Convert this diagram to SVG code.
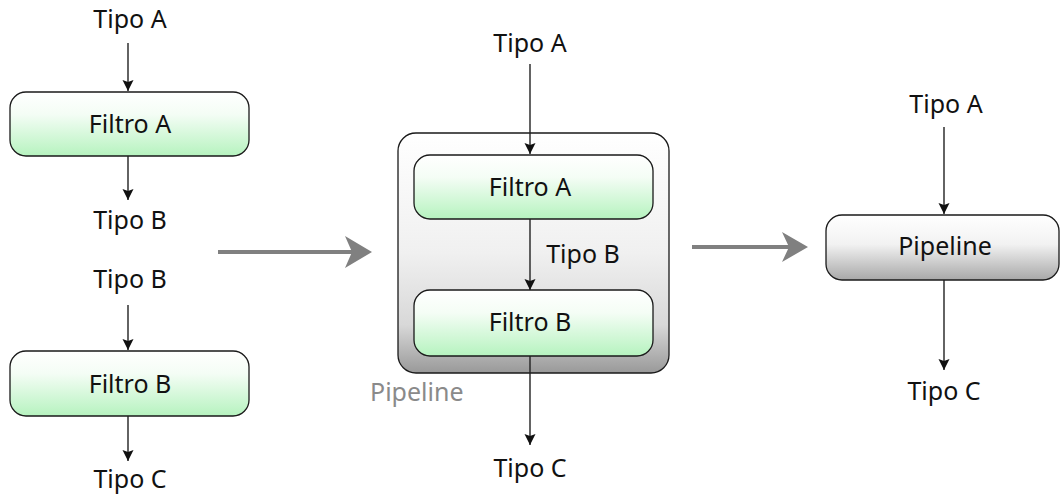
<svg xmlns="http://www.w3.org/2000/svg" width="1060" height="498" viewBox="0 0 1060 498">
<style>
text{font-family:"Noto Sans","Open Sans","Liberation Sans",sans-serif;font-size:25px;fill:#111;text-anchor:middle}
.lbl{fill:#8a8a8a;text-anchor:start}
.box{stroke:#1a1a1a;stroke-width:1.3}
.green{fill:url(#gGreen)}
.grey{fill:url(#gGrey)}
.outer{fill:url(#gOuter)}
.con{stroke:#222;stroke-width:1.4;fill:none;marker-end:url(#ah)}
.big{stroke:#808080;stroke-width:4;fill:none}
.bighead{fill:#808080}
</style>
<defs>
<linearGradient id="gGreen" x1="0" y1="0" x2="0" y2="1">
<stop offset="0" stop-color="#ffffff"/><stop offset="0.35" stop-color="#f4fdf5"/><stop offset="1" stop-color="#b6f3bf"/>
</linearGradient>
<linearGradient id="gGrey" x1="0" y1="0" x2="0" y2="1">
<stop offset="0" stop-color="#ffffff"/><stop offset="0.45" stop-color="#f2f2f2"/><stop offset="1" stop-color="#a8a8a8"/>
</linearGradient>
<linearGradient id="gOuter" x1="0" y1="0" x2="0" y2="1">
<stop offset="0" stop-color="#ffffff"/><stop offset="0.5" stop-color="#f0f0f0"/><stop offset="0.8" stop-color="#d8d8d8"/><stop offset="1" stop-color="#999999"/>
</linearGradient>
<marker id="ah" markerUnits="userSpaceOnUse" markerWidth="12" markerHeight="12" viewBox="0 0 12 12" refX="11" refY="6" orient="auto">
<path d="M0,0.5 L11,6 L0,11.5 L2,6 z" fill="#111"/>
</marker>
</defs>

<g id="left-tipoA"><text x="130" y="28">Tipo A</text></g>
<g id="left-filtroA">
<rect class="box green" x="10" y="92" width="239" height="64" rx="16"/>
<text x="130" y="133">Filtro A</text>
</g>
<g id="left-tipoB1"><text x="130" y="229">Tipo B</text></g>
<g id="left-tipoB2"><text x="130" y="288">Tipo B</text></g>
<g id="left-filtroB">
<rect class="box green" x="10" y="351" width="239" height="65" rx="16"/>
<text x="130" y="393">Filtro B</text>
</g>
<g id="left-tipoC"><text x="130" y="488">Tipo C</text></g>

<g id="mid-tipoA"><text x="530" y="52">Tipo A</text></g>
<g id="mid-pipeline">
<rect class="box outer" x="398" y="133" width="271" height="240" rx="18"/>
<text class="lbl" x="370" y="401">Pipeline</text>
</g>
<g id="mid-filtroA">
<rect class="box green" x="414" y="155" width="239" height="64" rx="16"/>
<text x="530" y="196">Filtro A</text>
</g>
<g id="mid-tipoB"><text x="583" y="263">Tipo B</text></g>
<g id="mid-filtroB">
<rect class="box green" x="414" y="290" width="239" height="66" rx="16"/>
<text x="530" y="331">Filtro B</text>
</g>
<g id="mid-tipoC"><text x="530" y="477">Tipo C</text></g>

<g id="right-tipoA"><text x="946" y="113">Tipo A</text></g>
<g id="right-pipeline">
<rect class="box grey" x="826" y="215" width="233" height="65" rx="16"/>
<text x="945" y="255">Pipeline</text>
</g>
<g id="right-tipoC"><text x="944" y="400">Tipo C</text></g>

<g id="connectors">
<path class="con" d="M128,43 V91"/>
<path class="con" d="M128,156 V200"/>
<path class="con" d="M128,305 V350"/>
<path class="con" d="M128,416 V461"/>
<path class="con" d="M530,64 V154"/>
<path class="con" d="M530,219 V290"/>
<path class="con" d="M530,356 V445"/>
<path class="con" d="M944,127 V214"/>
<path class="con" d="M944,280 V370"/>
<g id="bigArrow1">
<path class="big" d="M218,252 H352"/>
<path class="bighead" d="M372,252 L345,236 L352,252 L345,268 z"/>
</g>
<g id="bigArrow2">
<path class="big" d="M692,247 H789"/>
<path class="bighead" d="M808,247 L782,232 L789,247 L782,262 z"/>
</g>
</g>
</svg>
